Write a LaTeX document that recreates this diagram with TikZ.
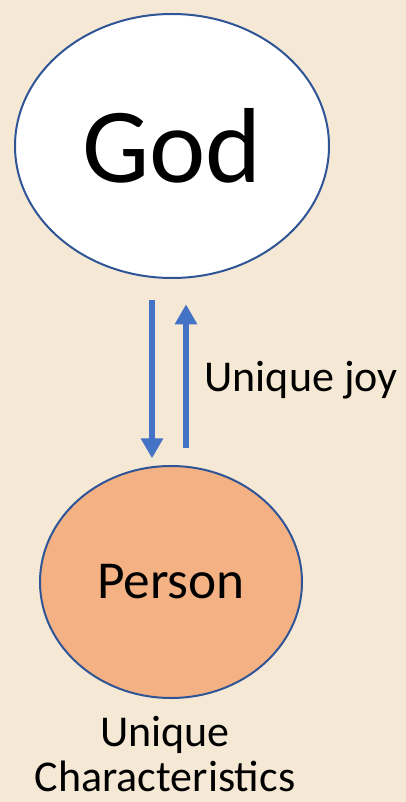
\documentclass[tikz,border=0pt]{standalone}
\usepackage{fontspec}
\setmainfont{Carlito}
\usetikzlibrary{positioning,arrows.meta,shapes.geometric}
\definecolor{paper}{HTML}{F5E8D5}
\definecolor{rim}{HTML}{2F5597}
\definecolor{flowblue}{HTML}{4472C4}
\definecolor{peach}{HTML}{F4B183}

\begin{document}
\begin{tikzpicture}[
  x=0.75pt,y=-0.75pt,
  every node/.style={font=\fontsize{33}{34}\selectfont},
  blob/.style={ellipse,draw=rim,line width=1.5pt,inner sep=0pt},
  flow/.style={draw=flowblue,line width=4.8pt,-{Triangle[length=15pt,width=16pt]}}
]

% fond
\fill[paper] (0,0) rectangle (406,802);
\useasboundingbox (0,0) rectangle (406,802);

% les deux cercles
\node[blob,fill=white,minimum width=235.5pt,minimum height=198pt,
  font=\fontsize{80}{90}\selectfont] (god) at (172,146) {God};
\node[blob,fill=peach,minimum width=196.5pt,minimum height=174pt,
  font=\fontsize{40}{46}\selectfont] (person) at (171,582) {Person};

% fleches
\coordinate (dtop) at ([xshift=-15pt,yshift=-15.5pt]god.south);
\coordinate (dbot) at ([xshift=-14.25pt,yshift=5pt]person.north);
\coordinate (ubot) at ([xshift=11.25pt,yshift=12.5pt]person.north);
\coordinate (utop) at ([xshift=10.5pt,yshift=-19pt]god.south);
\draw[flow] (dtop) -- (dbot);
\draw[flow] (ubot) -- (utop);

% textes
\node (joy) at (301,380) {Unique joy};
\node[align=center,inner sep=1pt] (traits) at (165,754) {Unique\\Characteristics};

\end{tikzpicture}
\end{document}
